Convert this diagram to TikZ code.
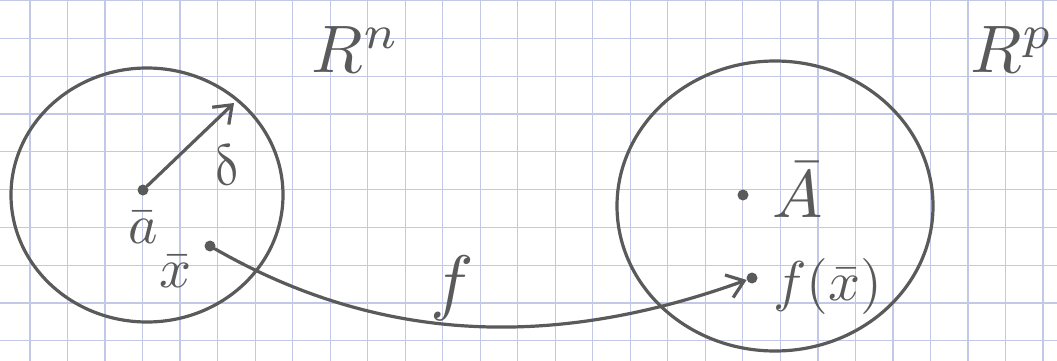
\documentclass[tikz,border=0pt]{standalone}
\usetikzlibrary{arrows.meta}
\definecolor{ink}{RGB}{90,90,90}
\definecolor{paper}{RGB}{196,200,232}
\begin{document}
\begin{tikzpicture}[x=1pt, y=-1pt,
    pencil/.style={draw=ink, line width=3.2pt, line cap=round},
    dot/.style={circle, fill=ink, inner sep=0pt, minimum size=11pt},
    lbl/.style={text=ink, inner sep=0pt, scale=5.6},
    big/.style={scale=1.2},
    tip/.style={-{Straight Barb[length=16pt,width=24pt]}}]
    \useasboundingbox (0,0) rectangle (1057,361);
    \fill[white] (0,0) rectangle (1057,361);
    % squared paper
    \foreach \i in {0,...,27} \draw[paper, line width=1.2pt] ({30+37.52*\i},0) -- ++(0,361);
    \foreach \j in {0,...,9} \draw[paper, line width=1.2pt] (0,{0.5+37.8*\j}) -- ++(1057,0);
    % the two balls
    \draw[pencil] (147,195) ellipse [x radius=136pt, y radius=127pt];
    \draw[pencil] (775,206) ellipse [x radius=158pt, y radius=145pt];
    \node[lbl, big] (Rn) at (356,50) {$R^n$};
    \node[lbl, big] (Rp) at (1012,50) {$R^p$};
    % points
    \node[dot] (a) at (143,190) {};
    \node[dot] (x) at (210,246) {};
    \node[dot] (A) at (743,195) {};
    \node[dot] (fx) at (752,278) {};
    \node[lbl] (alab) at (143,228) {$\bar{a}$};
    \node[lbl] (xlab) at (176,272) {$\bar{x}$};
    \node[lbl, big] (Alab) at (798,190) {$\bar{A}$};
    \node[lbl] (fxlab) at (828,286) {$f(\bar{x})$};
    % radius and map
    \coordinate (rad) at (234,103);
    \draw[pencil, tip] (a) -- (rad);
    \node[lbl, rotate=20] (delta) at (226,166) {$\delta$};
    \draw[pencil, tip] (x) .. controls (400,355) and (580,340) .. (fx);
    \node[lbl, scale=1.3] (flab) at (452,288) {$f$};
\end{tikzpicture}
\end{document}
